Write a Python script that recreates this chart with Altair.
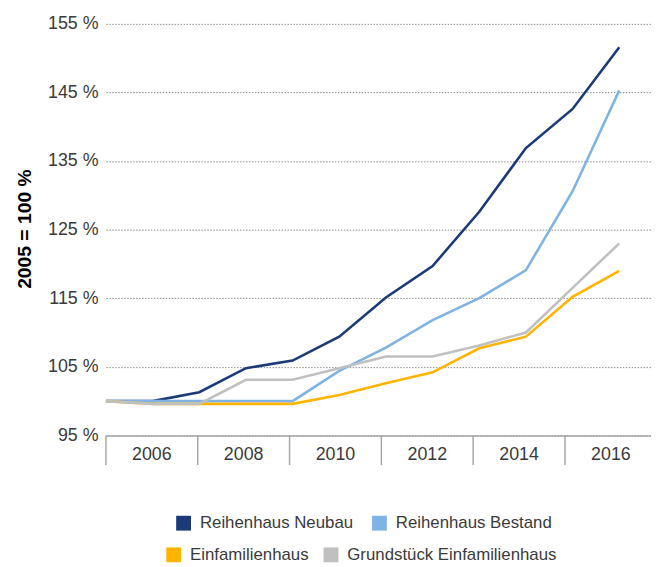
import altair as alt
import pandas as pd

years = list(range(2005, 2017))
neubau = [100, 100, 101.3, 104.8, 105.9, 109.4, 115.1, 119.7, 127.6, 136.9, 142.6, 151.6]
bestand = [100, 100, 100, 100, 100, 104.4, 107.8, 111.8, 115.0, 119.1, 130.6, 145.3]
efh = [100, 99.6, 99.6, 99.6, 99.6, 100.9, 102.6, 104.2, 107.7, 109.4, 115.2, 119.0]
grund = [100, 99.6, 99.6, 103.1, 103.1, 104.8, 106.5, 106.5, 108.1, 110.0, 116.5, 123.0]

names_row1 = ["Reihenhaus Neubau", "Reihenhaus Bestand"]
colors_row1 = ["#1c3a78", "#7fb3e6"]
names_row2 = ["Einfamilienhaus", "Grundstück Einfamilienhaus"]
colors_row2 = ["#ffb400", "#c0c0c0"]

band_labels = ["2006", "2008", "2010", "2012", "2014", "2016"]
y_ticks = [95, 105, 115, 125, 135, 145, 155]

FONT = "Liberation Sans, Arial, sans-serif"
W, H = 551, 416
X_MAX = 2016.68
BAND = 1.9674  # years per labelled band on the category axis

rows = []
for name, vals in zip(names_row1 + names_row2, [neubau, bestand, efh, grund]):
    for yr, v in zip(years, vals):
        rows.append({"year": yr, "value": v, "series": name})
df = pd.DataFrame(rows)

bands = pd.DataFrame({
    "label": band_labels,
    "start": [2005 + i * BAND for i in range(len(band_labels))],
    "center": [2005 + (i + 0.5) * BAND for i in range(len(band_labels))],
})

xscale = alt.Scale(domain=[2005, X_MAX], nice=False, zero=False)
yscale = alt.Scale(domain=[95, 155], nice=False, zero=False)

x_enc = alt.X("year:Q", scale=xscale,
              axis=alt.Axis(title=None, labels=False, ticks=False, grid=False,
                            domain=True, domainColor="#a6a6a6", domainWidth=1.5))
y_enc = alt.Y("value:Q", scale=yscale,
              axis=alt.Axis(title="2005 = 100 %", values=y_ticks,
                            labelExpr="datum.value + ' %'",
                            labelFont=FONT, labelFontSize=18, labelColor="#3a3a3a",
                            labelPadding=8, ticks=False, domain=False,
                            grid=True, gridColor="#8c8c8c", gridDash=[1.5, 1.5], gridWidth=1,
                            titleFont=FONT, titleFontSize=19.5,
                            titleFontWeight="bold", titleColor="#000000",
                            titleAngle=-90, titleX=-72, titleY=207,
                            titleAlign="center", titleBaseline="bottom"))

legend_common = dict(
    orient="none", direction="horizontal", title=None,
    symbolType="square", symbolSize=16, symbolStrokeWidth=11,
    labelFont=FONT, labelFontSize=17, labelColor="#3a3a3a", labelLimit=400,
    labelOffset=8, padding=0,
)

line1 = alt.Chart(df[df.series.isin(names_row1)]).mark_line(strokeWidth=2.6).encode(
    x=x_enc, y=y_enc,
    color=alt.Color("series:N",
                    scale=alt.Scale(domain=names_row1, range=colors_row1),
                    sort=names_row1,
                    legend=alt.Legend(legendX=70, legendY=496, columnPadding=1,
                                      **legend_common)),
)
line2 = alt.Chart(df[df.series.isin(names_row2)]).mark_line(strokeWidth=2.6).encode(
    x=x_enc, y=y_enc,
    color=alt.Color("series:N",
                    scale=alt.Scale(domain=names_row2, range=colors_row2),
                    sort=names_row2,
                    legend=alt.Legend(legendX=60, legendY=528, columnPadding=-3,
                                      **legend_common)),
)

seps = alt.Chart(bands).mark_rule(color="#a6a6a6", strokeWidth=1.5).encode(
    x=alt.X("start:Q", scale=xscale),
    y=alt.value(H), y2=alt.value(H + 30),
)
labels = alt.Chart(bands).mark_text(font=FONT, fontSize=18, color="#3a3a3a",
                                    baseline="middle", align="center").encode(
    x=alt.X("center:Q", scale=xscale),
    y=alt.value(H + 20),
    text="label:N",
)

chart = alt.layer(line1, line2, seps, labels).resolve_scale(color="independent").properties(
    width=W, height=H,
    background="white",
    autosize=alt.AutoSizeParams(type="none"),
    padding={"left": 99, "top": 13, "right": 0, "bottom": 130},
).configure_view(stroke=None).configure_axisY(domain=False)

chart.save("out.html", embed_options={"renderer": "svg", "actions": False})
